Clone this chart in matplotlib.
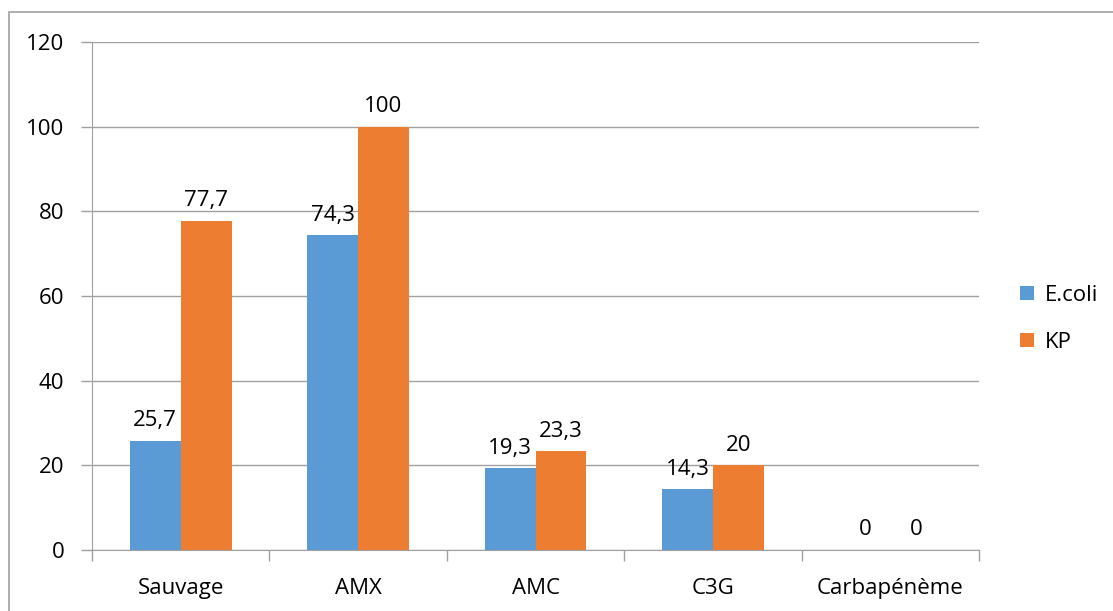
import matplotlib.pyplot as plt
import numpy as np
from matplotlib.patches import Rectangle

categories = ["Sauvage", "AMX", "AMC", "C3G", "Carbapénème"]
ecoli = [25.7, 74.3, 19.3, 14.3, 0]
kp = [77.7, 100, 23.3, 20, 0]
series_names = ["E.coli", "KP"]

blue = "#5B9BD5"
orange = "#ED7D31"
grey = "#A0A0A0"

plt.rcParams["font.family"] = ["Open Sans", "DejaVu Sans"]
fs = 16

fig = plt.figure(figsize=(11.13, 6.11), dpi=100)
ax = fig.add_axes([92 / 1113, 1 - 550 / 611, 887 / 1113, 508 / 611])

# outer chart border
fig.patches.append(Rectangle((9 / 1113, -0.1), 1.2, 1.1 - 12 / 611,
                             transform=fig.transFigure, fill=False,
                             edgecolor=grey, lw=1.2))

x = np.arange(len(categories))
w = 0.287
b1 = ax.bar(x - w / 2, ecoli, w, color=blue, label=series_names[0], zorder=2)
b2 = ax.bar(x + w / 2, kp, w, color=orange, label=series_names[1], zorder=2)

for bars, vals in [(b1, ecoli), (b2, kp)]:
    for r, v in zip(bars, vals):
        txt = f"{v:g}".replace(".", ",")
        ax.annotate(txt, (r.get_x() + r.get_width() / 2, v), xytext=(0, 7),
                    textcoords="offset points", ha="center", va="bottom",
                    fontsize=fs)

ax.set_xlim(-0.5, len(categories) - 0.5)
ax.set_ylim(0, 120)
ax.set_yticks(range(0, 121, 20))
ax.yaxis.grid(True, color=grey, lw=1, zorder=0)
ax.set_axisbelow(True)

ax.set_xticks(x)
ax.set_xticklabels(categories)
ax.set_xticks(np.arange(-0.5, len(categories)), minor=True)
ax.tick_params(axis="x", which="major", length=0, pad=20, labelsize=fs)
ax.tick_params(axis="x", which="minor", length=8, color=grey, width=1)
ax.tick_params(axis="y", length=8, color=grey, width=1, labelsize=fs, pad=12)

for s in ["top", "right"]:
    ax.spines[s].set_visible(False)
for s in ["left", "bottom"]:
    ax.spines[s].set_color(grey)

ax.legend(loc="center left", bbox_to_anchor=(1.024, 0.455), frameon=False,
          fontsize=fs, handlelength=0.6, handleheight=0.6, labelspacing=1.2,
          handletextpad=0.5)

fig.savefig("out.png", dpi=100)
